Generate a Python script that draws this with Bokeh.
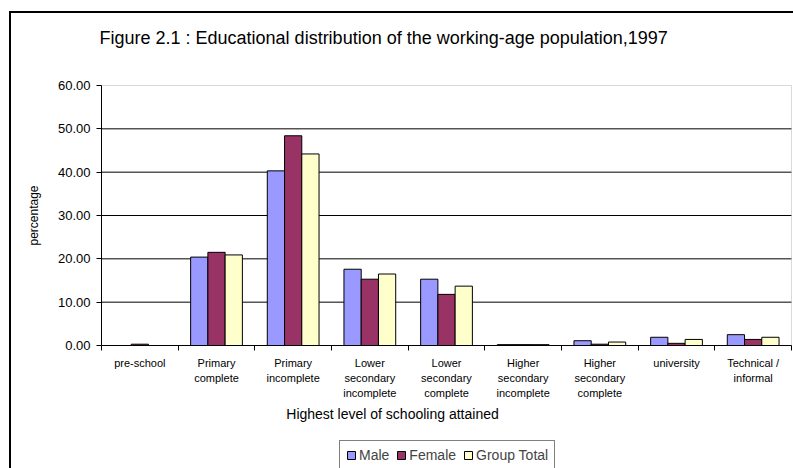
from bokeh.plotting import figure
from bokeh.models import (Range1d, FixedTicker, NumeralTickFormatter, Legend,
                          LegendItem, ColumnDataSource, Label, BoxAnnotation)
from bokeh.transform import dodge
from bokeh.embed import file_html
from bokeh.resources import INLINE

# ---- data ----
categories = ["pre-school", "Primary\ncomplete", "Primary\nincomplete",
              "Lower\nsecondary\nincomplete", "Lower\nsecondary\ncomplete",
              "Higher\nsecondary\nincomplete", "Higher\nsecondary\ncomplete",
              "university", "Technical /\ninformal"]
male = [0.0, 20.4, 40.3, 17.6, 15.3, 0.2, 1.1, 1.9, 2.5]
female = [0.3, 21.5, 48.4, 15.3, 11.8, 0.2, 0.3, 0.5, 1.4]
group_total = [0.0, 20.9, 44.2, 16.5, 13.7, 0.2, 0.8, 1.4, 1.9]
series_names = ["Male", "Female", "Group Total"]
y_ticks = [0, 10, 20, 30, 40, 50, 60]
title_text = "Figure 2.1 : Educational distribution of the working-age population,1997"
x_title = "Highest level of schooling attained"
y_title = "percentage"

FONT = "Liberation Sans"
colors = ["#9999FF", "#993366", "#FFFFCC"]

# ---- layout (pixels) ----
W, H = 793, 468
PA_L, PA_R, PA_T, PA_B = 101, 791, 85, 345   # plot area in the picture
n = len(categories)
ymax = 60
cw = (PA_R - PA_L) / n           # px per category
ph = (PA_B - PA_T) / ymax        # px per percent


def dx(px):
    return (px - PA_L) / cw


def dy(py):
    return (PA_B - py) / ph


xpos = [i + 0.5 for i in range(n)]
src = ColumnDataSource(dict(x=xpos, male=male, female=female, total=group_total))
grid_y = [t for t in y_ticks if 0 < t < ymax]
grid_src = ColumnDataSource(dict(y=grid_y, x0=[0] * len(grid_y), x1=[n] * len(grid_y)))

p = figure(width=W, height=H, output_backend="svg", toolbar_location=None,
           x_range=Range1d(dx(0), dx(W)), y_range=Range1d(dy(H), dy(0)),
           min_border_left=0, min_border_right=0, min_border_top=0,
           min_border_bottom=0)
p.title.visible = False
p.outline_line_color = None
p.background_fill_alpha = 0
p.border_fill_alpha = 0
# white page with the outer chart-area border (left and top edges visible)
p.styles = {
    "background": "linear-gradient(#000, #000) 9px 11px / 2px 100% no-repeat, "
                  "linear-gradient(#000, #000) 9px 11px / 100% 2px no-repeat, #fff"
}

# plot-area border
p.add_layout(BoxAnnotation(left=0, right=n, bottom=0, top=ymax, fill_alpha=0,
                           line_color="#808080", line_width=1, level="underlay"))

# grid lines limited to the plot area
p.xgrid.visible = False
p.ygrid.visible = False
p.segment(x0="x0", x1="x1", y0="y", y1="y", source=grid_src, line_color="black",
          line_width=1, level="underlay")

# y axis
ya = p.yaxis[0]
ya.fixed_location = 0
ya.bounds = (0, ymax)
ya.ticker = FixedTicker(ticks=y_ticks)
ya.formatter = NumeralTickFormatter(format="0.00")
ya.major_tick_in = 0
ya.major_tick_out = 5
ya.minor_tick_line_color = None
ya.major_label_standoff = 6
ya.major_label_text_font = FONT
ya.major_label_text_font_size = "13px"
ya.major_label_text_color = "black"
ya.axis_line_color = "black"
ya.axis_label = y_title
ya.axis_label_text_font = FONT
ya.axis_label_text_font_size = "12px"
ya.axis_label_text_font_style = "normal"
ya.axis_label_text_color = "black"
ya.axis_label_standoff = 14

# x axis
xa = p.xaxis[0]
xa.fixed_location = 0
xa.bounds = (0, n)
xa.ticker = FixedTicker(ticks=xpos, minor_ticks=list(range(n + 1)))
xa.major_label_overrides = {x: c for x, c in zip(xpos, categories)}
xa.major_tick_in = 0
xa.major_tick_out = 0
xa.minor_tick_in = 0
xa.minor_tick_out = 5
xa.minor_tick_line_color = "black"
xa.major_label_standoff = 6
xa.major_label_text_font = FONT
xa.major_label_text_font_size = "11px"
xa.major_label_text_color = "black"
xa.major_label_text_line_height = 1.25
xa.axis_line_color = "black"

# bars
w = 0.225
r_m = p.vbar(x=dodge("x", -w, range=p.x_range), top="male", width=w, source=src,
             fill_color=colors[0], line_color="black", line_width=1)
r_f = p.vbar(x=dodge("x", 0, range=p.x_range), top="female", width=w, source=src,
             fill_color=colors[1], line_color="black", line_width=1)
r_t = p.vbar(x=dodge("x", w, range=p.x_range), top="total", width=w, source=src,
             fill_color=colors[2], line_color="black", line_width=1)

# chart title and x axis title
p.add_layout(Label(x=dx(99), y=dy(37), text=title_text, text_align="left",
                   text_baseline="middle", text_font=FONT, text_font_size="18px",
                   text_color="black"))
p.add_layout(Label(x=dx(392), y=dy(413), text=x_title, text_align="center",
                   text_baseline="middle", text_font=FONT, text_font_size="14px",
                   text_color="black"))

# legend
legend = Legend(items=[LegendItem(label=series_names[0], renderers=[r_m]),
                       LegendItem(label=series_names[1], renderers=[r_f]),
                       LegendItem(label=series_names[2], renderers=[r_t])],
                orientation="horizontal", location=(339, -2),
                glyph_width=10, glyph_height=10, label_standoff=3, spacing=7,
                padding=6, margin=0, label_height=14,
                label_text_font=FONT, label_text_font_size="14px",
                border_line_color="black", border_line_width=1,
                background_fill_color="white", background_fill_alpha=1)
p.add_layout(legend)

open("out.html", "w").write(file_html(p, INLINE))
